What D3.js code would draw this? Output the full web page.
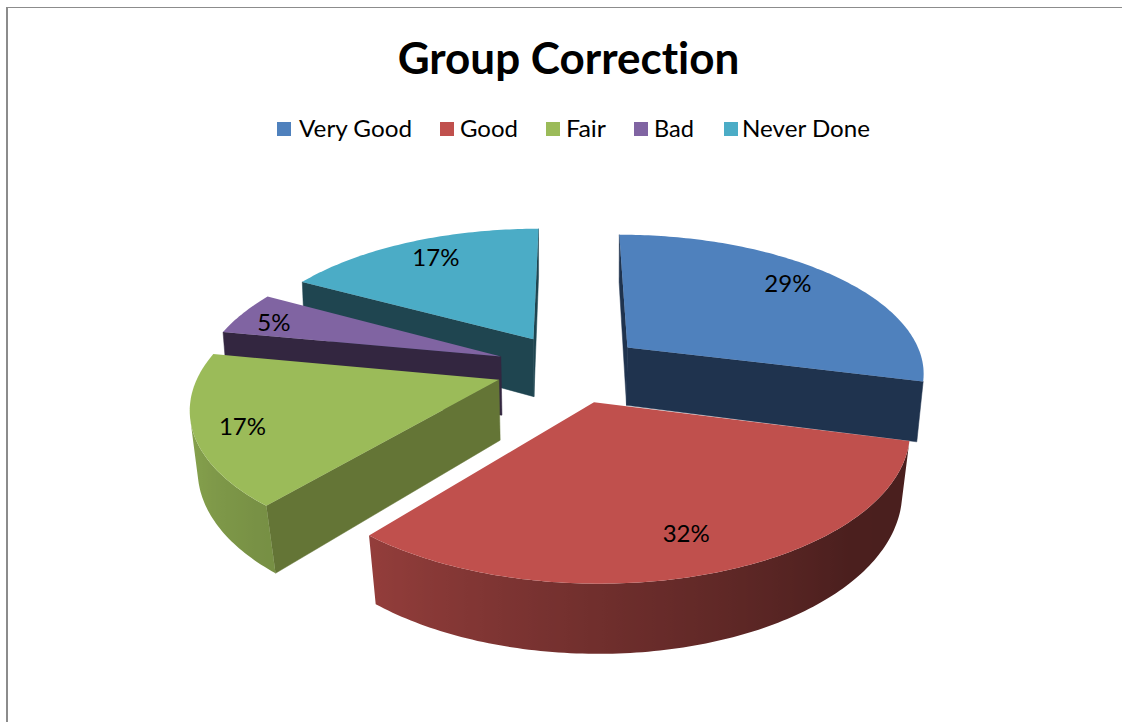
<!DOCTYPE html>
<html><head><meta charset="utf-8">
<script src="https://cdn.jsdelivr.net/npm/d3@7/dist/d3.min.js"></script>
<style>html,body{margin:0;background:#fff}svg{display:block}text{font-family:Lato,"Open Sans",sans-serif;fill:#000;font-variant-ligatures:none}</style>
</head><body><svg id="c" width="1122" height="722"></svg>
<script>
const titleText = "Group Correction";
const categories = ["Very Good","Good","Fair","Bad","Never Done"];
const percentages = [29,32,17,5,17];
const faceColors = ["#4f81bd","#c0504d","#9bbb59","#8064a2","#4bacc6"];
const wallColors = ["#1f334e","#4a1d1d","#647536","#332640","#1f4550"];
const labelRadius = [0.81,0.80,0.85,0.855,0.81];
const labelShiftDeg = [-2.6,0,-1.7,-2.3,1.6];
const paintOrder = [4,0,3,2,1];

const W = {cx:570, cy:368, A:298, B:138, k:0.168, cy2:427.5, A2:293, B2:148, k2:0.154, explode:0.25};
const svg = d3.select("#c");
const defs = svg.append("defs");
const topPt = (X,Y)=>{const d=1-W.k*Y;return [W.cx+W.A*X/d, W.cy+W.B*Y/d];};
const botPt = (X,Y)=>{const d=1-W.k2*Y;return [W.cx+W.A2*X/d, W.cy2+W.B2*Y/d];};
const arcs = d3.pie().sort(null).value(d=>d)(percentages);
const line = d3.line();
const shade = d3.scaleLinear().domain([100,135,175,220,260]).range([.38,.39,.56,.77,.89]).clamp(true);
const area = q=>d3.polygonArea(q);

svg.append("line").attr("x1",7).attr("x2",7).attr("y1",7).attr("y2",722).attr("stroke","#8c8c8c").attr("stroke-width",2);
svg.append("line").attr("x1",6).attr("x2",1122).attr("y1",7.5).attr("y2",7.5).attr("stroke","#8c8c8c").attr("stroke-width",1);

const g = svg.append("g");
paintOrder.forEach(i=>{
  const a = arcs[i], mid=(a.startAngle+a.endAngle)/2;
  const ox=W.explode*Math.sin(mid), oy=-W.explode*Math.cos(mid);
  const n=Math.max(8,Math.round((a.endAngle-a.startAngle)*60));
  const angs=d3.range(n+1).map(j=>a.startAngle+(a.endAngle-a.startAngle)*j/n);
  const world=angs.map(t=>[ox+Math.sin(t),oy-Math.cos(t)]);
  const apex=[ox,oy];
  const T=p=>topPt(p[0],p[1]), B=p=>botPt(p[0],p[1]);
  [[apex,world[0]],[world[n],apex]].forEach(([p,q])=>{
    const quad=[T(p),T(q),B(q),B(p)];
    if(area(quad)>0) g.append("path").attr("d",line(quad)+"Z").attr("fill",wallColors[i]).attr("stroke",wallColors[i]).attr("stroke-width",.5);
  });
  const vis=[];
  for(let j=0;j<n;j++){
    if(area([T(world[j]),T(world[j+1]),B(world[j+1]),B(world[j])])>0) vis.push(j);
  }
  if(vis.length){
    const j0=vis[0], j1=vis[vis.length-1]+1;
    const run=d3.range(j0,j1+1);
    const pts=run.map(j=>T(world[j])).concat(run.slice().reverse().map(j=>B(world[j])));
    const xs=run.map(j=>T(world[j])[0]);
    const x0=d3.min(xs), x1=d3.max(xs);
    const base=d3.rgb(faceColors[i]);
    const id="side"+i;
    const gr=defs.append("linearGradient").attr("id",id).attr("gradientUnits","userSpaceOnUse")
      .attr("x1",x0).attr("x2",x1).attr("y1",0).attr("y2",0);
    const stops=run.map(j=>({o:(T(world[j])[0]-x0)/Math.max(1,x1-x0),s:shade(angs[j]*180/Math.PI)})).sort((u,v)=>u.o-v.o);
    stops.forEach(st=>gr.append("stop").attr("offset",st.o)
      .attr("stop-color",d3.rgb(base.r*st.s,base.g*st.s,base.b*st.s).formatHex()));
    g.append("path").attr("d",line(pts)+"Z").attr("fill",`url(#${id})`);
  }
  const face=[T(apex)].concat(world.map(T));
  g.append("path").attr("d",line(face)+"Z").attr("fill",faceColors[i]);
});

arcs.forEach((a,i)=>{
  const mid=(a.startAngle+a.endAngle)/2, r=labelRadius[i], e=W.explode;
  const t=mid+labelShiftDeg[i]*Math.PI/180;
  const p=topPt(e*Math.sin(mid)+r*Math.sin(t),-e*Math.cos(mid)-r*Math.cos(t));
  svg.append("text").attr("x",p[0]).attr("y",p[1]+8).attr("text-anchor","middle")
    .attr("font-size",24).text(percentages[i]+"%");
});

svg.append("text").attr("x",568.5).attr("y",74).attr("text-anchor","middle")
  .attr("font-size",44).attr("font-weight",700).text(titleText);

const widths=[113,58,40,40,128], advances=[163,106,88,90,0], textGaps=[22,20,20,20,18];
let x=277;
categories.forEach((c,i)=>{
  svg.append("rect").attr("x",x).attr("y",122).attr("width",14).attr("height",14).attr("fill",faceColors[i]);
  svg.append("text").attr("x",x+textGaps[i]).attr("y",137).attr("font-size",24)
    .attr("textLength",widths[i]).attr("lengthAdjust","spacingAndGlyphs").text(c);
  x+=advances[i];
});
</script></body></html>
